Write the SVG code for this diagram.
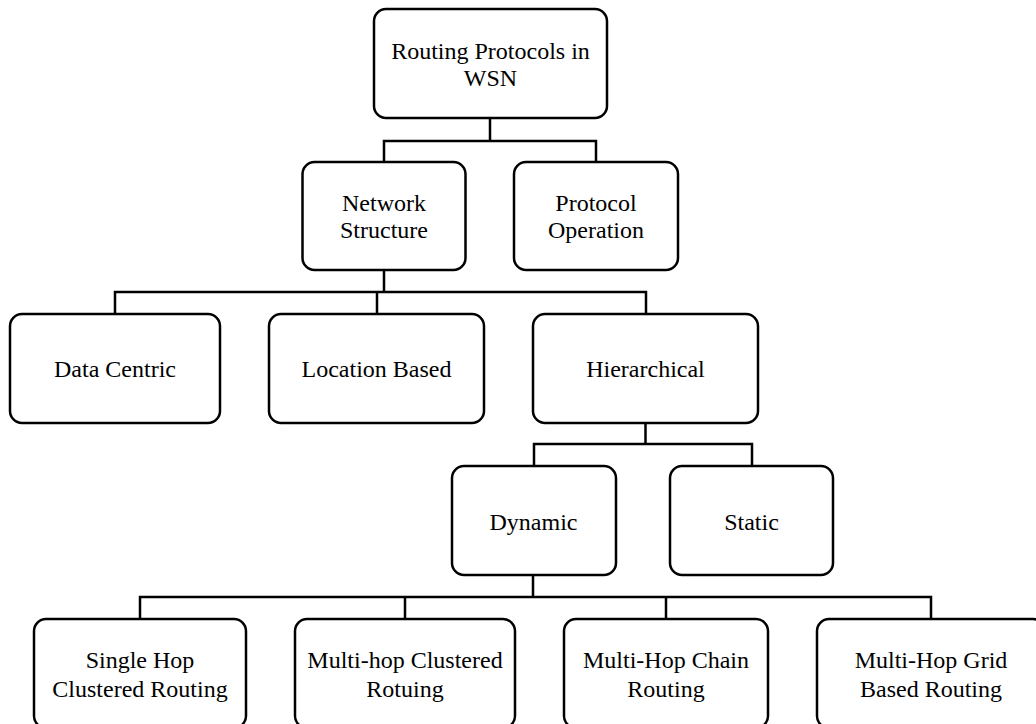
<svg xmlns="http://www.w3.org/2000/svg" width="1036" height="724" viewBox="0 0 1036 724">
<style>
.box{fill:#fff;stroke:#000;stroke-width:2.5}
.lbl{font-family:"Liberation Serif","Times New Roman",serif;font-size:24px;fill:#000;text-anchor:middle}
.conn{fill:none;stroke:#000;stroke-width:2.5;stroke-linejoin:miter}
</style>
<rect width="1036" height="724" fill="#fff"/>
<g id="connectors">
<path class="conn" d="M490,118 V141 M384,162 V141 H596 V162"/>
<path class="conn" d="M384,270 V292 M115,314 V292 H646 V314 M377,292 V314"/>
<path class="conn" d="M645.5,423 V444 M534,466 V444 H752 V466"/>
<path class="conn" d="M533,575 V597 M140,619 V597 H931 V619 M405,597 V619 M666,597 V619"/>
</g>
<g id="root">
<rect class="box" x="374" y="9" width="233" height="109" rx="12"/>
<text class="lbl" x="490.5" y="59">Routing Protocols in</text>
<text class="lbl" x="490.5" y="86">WSN</text>
</g>
<g id="network-structure">
<rect class="box" x="302.5" y="162" width="163" height="108" rx="12"/>
<text class="lbl" x="384" y="211">Network</text>
<text class="lbl" x="384" y="238">Structure</text>
</g>
<g id="protocol-operation">
<rect class="box" x="514" y="162" width="164" height="108" rx="12"/>
<text class="lbl" x="596" y="211">Protocol</text>
<text class="lbl" x="596" y="238">Operation</text>
</g>
<g id="data-centric">
<rect class="box" x="10" y="314" width="210" height="109" rx="12"/>
<text class="lbl" x="115" y="377">Data Centric</text>
</g>
<g id="location-based">
<rect class="box" x="269" y="314" width="215" height="109" rx="12"/>
<text class="lbl" x="376.5" y="377">Location Based</text>
</g>
<g id="hierarchical">
<rect class="box" x="533" y="314" width="225" height="109" rx="12"/>
<text class="lbl" x="645.5" y="377">Hierarchical</text>
</g>
<g id="dynamic">
<rect class="box" x="452" y="466" width="164" height="109" rx="12"/>
<text class="lbl" x="533.5" y="530">Dynamic</text>
</g>
<g id="static">
<rect class="box" x="670" y="466" width="163" height="109" rx="12"/>
<text class="lbl" x="751.5" y="530">Static</text>
</g>
<g id="single-hop">
<rect class="box" x="34" y="619" width="212" height="109" rx="12"/>
<text class="lbl" x="140" y="668">Single Hop</text>
<text class="lbl" x="140" y="697">Clustered Routing</text>
</g>
<g id="multi-hop-clustered">
<rect class="box" x="295" y="619" width="220" height="109" rx="12"/>
<text class="lbl" x="405" y="668">Multi-hop Clustered</text>
<text class="lbl" x="405" y="697">Rotuing</text>
</g>
<g id="multi-hop-chain">
<rect class="box" x="564" y="619" width="204" height="109" rx="12"/>
<text class="lbl" x="666" y="668">Multi-Hop Chain</text>
<text class="lbl" x="666" y="697">Routing</text>
</g>
<g id="multi-hop-grid">
<rect class="box" x="817" y="619" width="228" height="109" rx="12"/>
<text class="lbl" x="931" y="668">Multi-Hop Grid</text>
<text class="lbl" x="931" y="697">Based Routing</text>
</g>
</svg>
